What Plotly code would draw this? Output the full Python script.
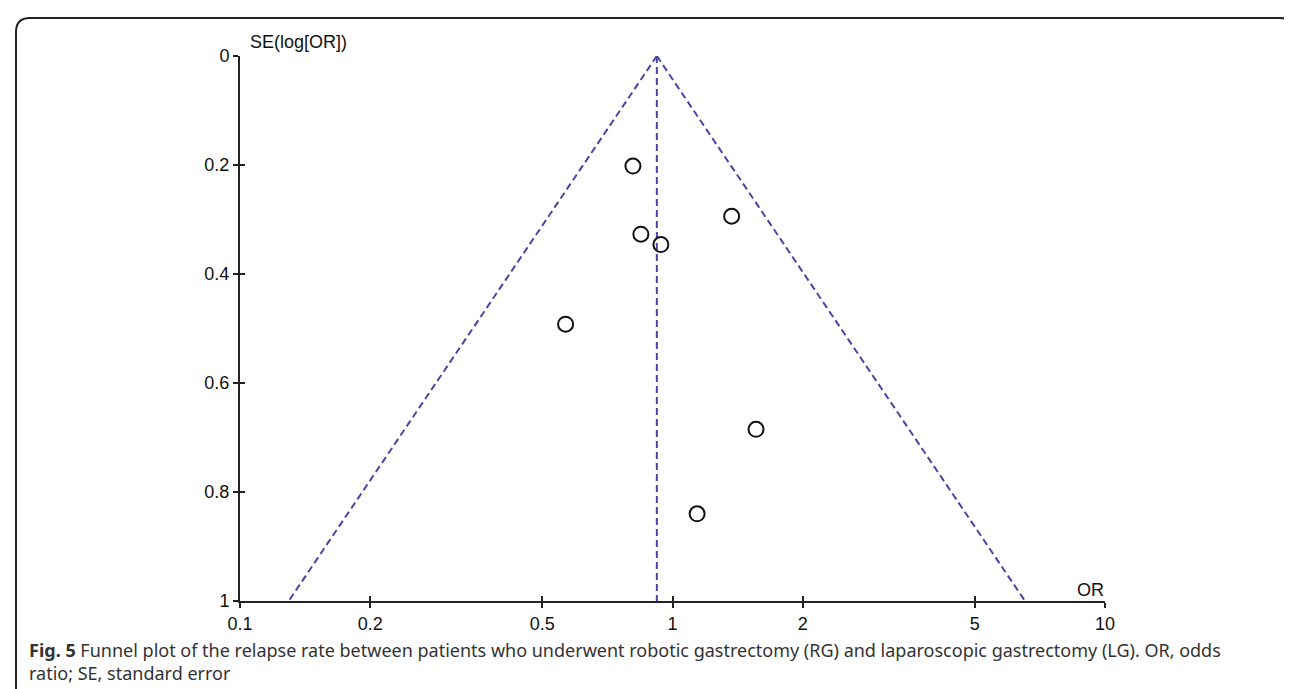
import numpy as np
import plotly.graph_objects as go

# ---- data ----
study_or = [0.81, 1.37, 0.845, 0.94, 0.566, 1.56, 1.14]
study_se = [0.202, 0.294, 0.327, 0.346, 0.492, 0.685, 0.84]
pooled_or = 0.92
se_range = [0.0, 1.0]
x_ticks = [0.1, 0.2, 0.5, 1, 2, 5, 10]
x_tick_labels = ["0.1", "0.2", "0.5", "1", "2", "5", "10"]
y_ticks = [0, 0.2, 0.4, 0.6, 0.8, 1]
y_tick_labels = ["0", "0.2", "0.4", "0.6", "0.8", "1"]

line_color = "#4b44a6"
dash = "7px,4px"
tick_font = dict(family="Liberation Sans, Arial", size=18, color="#111")

fig = go.Figure()

# funnel limits
lo = [pooled_or * np.exp(-1.96 * s) for s in se_range]
hi = [pooled_or * np.exp(1.96 * s) for s in se_range]
for xs in (lo, hi, [pooled_or, pooled_or]):
    fig.add_trace(go.Scatter(x=xs, y=se_range, mode="lines",
                             line=dict(color=line_color, width=2, dash=dash),
                             hoverinfo="skip", showlegend=False))

# studies
fig.add_trace(go.Scatter(x=study_or, y=study_se, mode="markers",
                         marker=dict(symbol="circle-open", size=15,
                                     color="#111", line=dict(width=2, color="#111")),
                         showlegend=False))

# invisible trace on overlay axes for inside ticks
fig.add_trace(go.Scatter(x=[1], y=[0.5], xaxis="x2", yaxis="y2", mode="markers",
                         marker=dict(opacity=0), hoverinfo="skip", showlegend=False))

axis_common = dict(showgrid=False, zeroline=False)
fig.update_layout(
    width=1292, height=689,
    paper_bgcolor="white", plot_bgcolor="white",
    margin=dict(l=232, r=195, t=48, b=96),
    xaxis=dict(type="log", range=[-1, 1], tickvals=x_ticks, ticktext=x_tick_labels,
               ticks="outside", ticklen=5, tickwidth=1.5, tickcolor="#222",
               showline=True, linecolor="#222", linewidth=2,
               tickfont=tick_font, **axis_common),
    yaxis=dict(range=[1, 0], tickvals=y_ticks, ticktext=y_tick_labels,
               ticks="outside", ticklen=5, tickwidth=1.5, tickcolor="#222",
               showline=True, linecolor="#222", linewidth=2,
               tickfont=tick_font, **axis_common),
    xaxis2=dict(type="log", range=[-1, 1], overlaying="x", anchor="y",
                tickvals=x_ticks, ticks="inside", ticklen=5, tickwidth=1.5,
                tickcolor="#222", showticklabels=False, showline=False, side="bottom",
                **axis_common),
    yaxis2=dict(range=[1, 0], overlaying="y", anchor="x",
                tickvals=y_ticks, ticks="inside", ticklen=5, tickwidth=1.5,
                tickcolor="#222", showticklabels=False, showline=False, side="left",
                **axis_common),
    annotations=[
        dict(text="SE(log[OR])", xref="x", yref="y", x=-1, y=0,
             xanchor="left", yanchor="bottom", xshift=8, yshift=2, showarrow=False,
             font=dict(family="Liberation Sans, Arial", size=18, color="#111")),
        dict(text="OR", xref="x", yref="y", x=1, y=1,
             xanchor="right", yanchor="bottom", xshift=1, yshift=-1, showarrow=False,
             font=dict(family="Liberation Sans, Arial", size=18, color="#111")),
        dict(text="<b>Fig. 5</b> Funnel plot of the relapse rate between patients who underwent robotic gastrectomy (RG) and laparoscopic gastrectomy (LG). OR, odds<br>ratio; SE, standard error",
             xref="paper", yref="paper", x=(19 - 232) / 865, y=-0.065,
             xanchor="left", yanchor="top", align="left", showarrow=False,
             font=dict(family="Noto Sans, Open Sans", size=18, color="#333")),
    ],
    shapes=[
        dict(type="path", xref="paper", yref="paper", layer="below",
             path="M {x0},{yb} L {x0},{yt1} Q {x0},{yt} {x1a},{yt} L {x2a},{yt} Q {x2},{yt} {x2},{yt1} L {x2},{yb}".format(
                 x0=(8 - 232) / 865, x1a=(22 - 232) / 865, x2a=(1272 - 232) / 865,
                 x2=(1285 - 232) / 865, yt=(593 - 10) / 545, yt1=(593 - 24) / 545,
                 yb=(593 - 700) / 545),
             line=dict(color="#222", width=2)),
    ],
)

fig.write_html("out.html")
